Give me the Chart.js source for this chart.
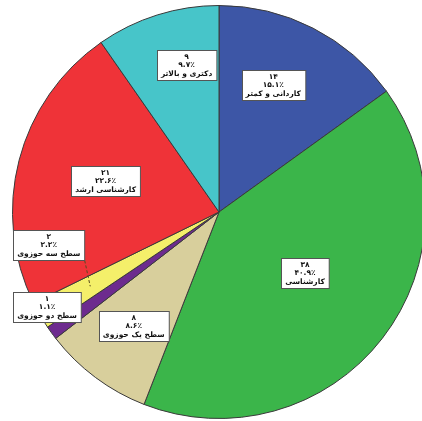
<!DOCTYPE html>
<html>
<head>
<meta charset="utf-8">
<script src="https://cdn.jsdelivr.net/npm/chart.js@4.4.1/dist/chart.umd.min.js"></script>
<style>
  html, body { margin: 0; padding: 0; background: #fff; overflow: hidden; }
  #wrap { position: absolute; left: 0; top: 5px; width: 438px; height: 414px; }
</style>
</head>
<body>
<div id="wrap"><canvas id="pie"></canvas></div>
<script>
// education level of respondents
const categories = ['کاردانی و کمتر', 'کارشناسی', 'سطح یک حوزوی', 'سطح دو حوزوی', 'سطح سه حوزوی', 'کارشناسی ارشد', 'دکتری و بالاتر'];
const counts = [14, 38, 8, 1, 2, 21, 9];

const sliceColors = ['#3d56a6', '#3bb54a', '#d8cf9c', '#6d2b8e', '#f4ef6a', '#ef3338', '#47c5c9'];

// where each callout box sits: fraction of radius and angle shift (deg) from slice middle
const labelRadius = [0.67, 0.51, 0.69, 0.95, 0.84, 0.57, 0.73];
const labelShift = [-4, -2.5, 0, 7, 19, 1, 5];

const total = counts.reduce((a, b) => a + b, 0);
const faDigits = s => String(s).replace(/[0-9]/g, d => '۰۱۲۳۴۵۶۷۸۹'[d]);

const calloutPlugin = {
    id: 'callouts',
    afterDatasetsDraw(chart) {
        const ctx = chart.ctx;
        const arcs = chart.getDatasetMeta(0).data;
        ctx.save();
        ctx.font = 'bold 7.5px "DejaVu Sans"';
        ctx.textAlign = 'center';
        ctx.textBaseline = 'middle';
        arcs.forEach((arc, i) => {
            const mid = (arc.startAngle + arc.endAngle) / 2 + labelShift[i] * Math.PI / 180;
            const r = arc.outerRadius * labelRadius[i];
            const cx = arc.x + Math.cos(mid) * r;
            const cy = arc.y + Math.sin(mid) * r;
            const lines = [
                faDigits(counts[i]),
                faDigits((counts[i] / total * 100).toFixed(1)) + '٪',
                categories[i]
            ];
            const w = Math.max(...lines.map(t => ctx.measureText(t).width)) + 8;
            const h = 30;
            const bx = Math.round(cx - w / 2) + 0.5;
            const by = Math.round(cy - h / 2) + 0.5;

            // leader line for the thin yellow slice
            if (i === 4) {
                const a = (arc.startAngle + arc.endAngle) / 2;
                ctx.strokeStyle = '#5a4a20';
                ctx.lineWidth = 1;
                ctx.setLineDash([3, 2]);
                ctx.beginPath();
                ctx.moveTo(bx + w, by + h);
                ctx.lineTo(arc.x + Math.cos(a) * arc.outerRadius * 0.72, arc.y + Math.sin(a) * arc.outerRadius * 0.72);
                ctx.stroke();
                ctx.setLineDash([]);
            }

            ctx.fillStyle = '#ffffff';
            ctx.fillRect(bx, by, w, h);
            ctx.strokeStyle = '#555';
            ctx.lineWidth = 1;
            ctx.strokeRect(bx, by, w, h);
            ctx.fillStyle = '#111';
            lines.forEach((t, k) => ctx.fillText(t, cx, by + 6.5 + k * 8.5));
        });
        ctx.restore();
    }
};

new Chart(document.getElementById('pie'), {
    type: 'pie',
    data: {
        labels: categories,
        datasets: [{
            data: counts,
            backgroundColor: sliceColors,
            borderColor: '#3a3a3a',
            borderWidth: 1
        }]
    },
    options: {
        responsive: true,
        maintainAspectRatio: false,
        animation: false,
        layout: { padding: 0 },
        plugins: { legend: { display: false }, tooltip: { enabled: false } }
    },
    plugins: [calloutPlugin]
});
</script>
</body>
</html>
